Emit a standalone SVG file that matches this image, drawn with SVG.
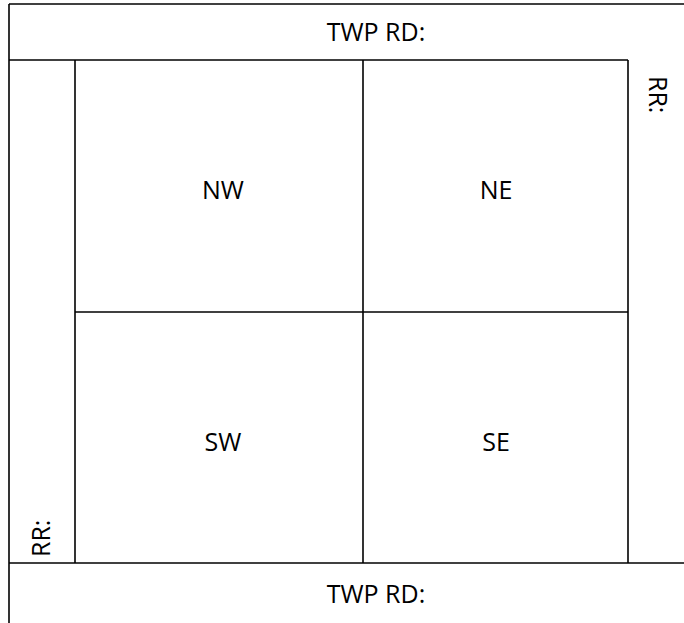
<svg xmlns="http://www.w3.org/2000/svg" width="684" height="623" viewBox="0 0 684 623">
<style>
.l{stroke:#000;stroke-width:1.6;fill:none}
text{font-family:"Open Sans","Liberation Sans",sans-serif;font-size:25px;fill:#000}
</style>
<rect width="684" height="623" fill="#fff"/>
<g id="connectors">
<line class="l" x1="9" y1="4" x2="684" y2="4"/>
<line class="l" x1="9" y1="4" x2="9" y2="623"/>
<line class="l" x1="9" y1="60" x2="628" y2="60"/>
<line class="l" x1="9" y1="563" x2="684" y2="563"/>
<line class="l" x1="75" y1="60" x2="75" y2="563"/>
<line class="l" x1="363" y1="60" x2="363" y2="563"/>
<line class="l" x1="628" y1="60" x2="628" y2="563"/>
<line class="l" x1="75" y1="312" x2="628" y2="312"/>
</g>
<g id="top"><text x="376" y="41" text-anchor="middle">TWP RD:</text></g>
<g id="bottom"><text x="376" y="603" text-anchor="middle">TWP RD:</text></g>
<g id="NW"><text x="223" y="199" text-anchor="middle">NW</text></g>
<g id="NE"><text x="496" y="199" text-anchor="middle">NE</text></g>
<g id="SW"><text x="223" y="451" text-anchor="middle">SW</text></g>
<g id="SE"><text x="496" y="451" text-anchor="middle">SE</text></g>
<g id="rr-right"><text transform="translate(649,76) rotate(90)">RR:</text></g>
<g id="rr-left"><text transform="translate(50,557) rotate(-90)">RR:</text></g>
</svg>
